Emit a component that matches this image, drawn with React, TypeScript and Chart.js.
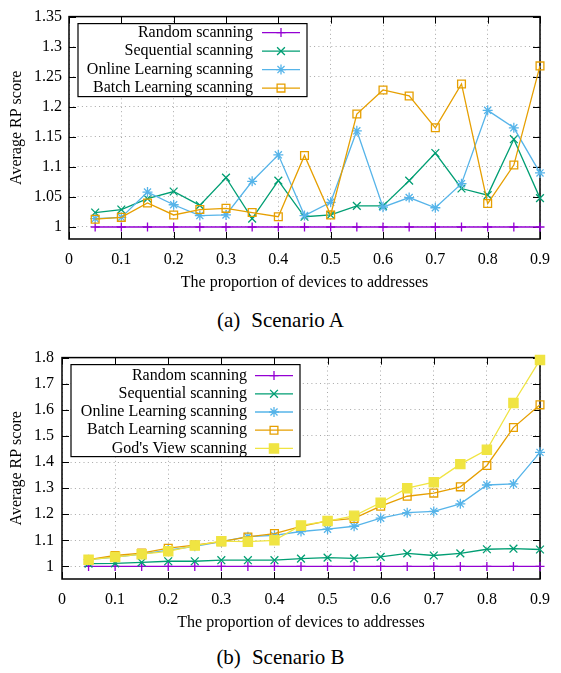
import React, { useEffect, useRef } from 'react';
import { Chart, registerables } from 'chart.js';

Chart.register(...registerables);

const FONT = "'Liberation Serif', 'Times New Roman', serif";

// ---------- data ----------
const xValues = [0.05, 0.1, 0.15, 0.2, 0.25, 0.3, 0.35, 0.4, 0.45, 0.5, 0.55, 0.6, 0.65, 0.7, 0.75, 0.8, 0.85, 0.9];
const xTicks = [0, 0.1, 0.2, 0.3, 0.4, 0.5, 0.6, 0.7, 0.8, 0.9];
const yTicksA = [1, 1.05, 1.1, 1.15, 1.2, 1.25, 1.3, 1.35];
const yTicksB = [1, 1.1, 1.2, 1.3, 1.4, 1.5, 1.6, 1.7, 1.8];

const seriesLabelsA = ['Random scanning', 'Sequential scanning', 'Online Learning scanning', 'Batch Learning scanning'];
const seriesLabelsB = ['Random scanning', 'Sequential scanning', 'Online Learning scanning', 'Batch Learning scanning', "God's View scanning"];

const randomA = [1, 1, 1, 1, 1, 1, 1, 1, 1, 1, 1, 1, 1, 1, 1, 1, 1, 1];
const sequentialA = [1.024, 1.029, 1.047, 1.059, 1.036, 1.082, 1.014, 1.077, 1.017, 1.02, 1.035, 1.035, 1.077, 1.123, 1.064, 1.053, 1.146, 1.048];
const onlineA = [1.014, 1.016, 1.058, 1.037, 1.019, 1.02, 1.076, 1.12, 1.019, 1.041, 1.16, 1.033, 1.049, 1.032, 1.072, 1.194, 1.165, 1.09];
const batchA = [1.013, 1.016, 1.04, 1.02, 1.029, 1.031, 1.024, 1.017, 1.119, 1.02, 1.188, 1.228, 1.218, 1.165, 1.238, 1.039, 1.103, 1.268];

const randomB = [1, 1, 1, 1, 1, 1, 1, 1, 1, 1, 1, 1, 1, 1, 1, 1, 1, 1];
const sequentialB = [1.011, 1.012, 1.016, 1.02, 1.02, 1.024, 1.024, 1.024, 1.03, 1.034, 1.031, 1.037, 1.05, 1.042, 1.05, 1.066, 1.068, 1.065];
const onlineB = [1.026, 1.036, 1.047, 1.063, 1.077, 1.095, 1.114, 1.119, 1.134, 1.143, 1.154, 1.185, 1.206, 1.211, 1.24, 1.312, 1.316, 1.437];
const batchB = [1.026, 1.042, 1.051, 1.07, 1.082, 1.095, 1.113, 1.126, 1.154, 1.175, 1.184, 1.231, 1.269, 1.281, 1.305, 1.387, 1.532, 1.619];
const godB = [1.026, 1.036, 1.047, 1.058, 1.08, 1.097, 1.095, 1.1, 1.157, 1.174, 1.194, 1.244, 1.3, 1.323, 1.392, 1.447, 1.626, 1.791];

// ---------- styles ----------
const COLORS = ['#9400d3', '#009e73', '#56b4e9', '#e69f00', '#f0e442'];
const MARKERS = ['cross', 'crossRot', 'star', 'rect', 'rect'];
const RADII = [4.5, 5.5, 5, 5.5, 6.5];
const FILLED = [false, false, false, false, true];

const fmt = (v: number) => String(Math.round(v * 1000) / 1000);

function drawMarker(ctx: CanvasRenderingContext2D, style: string, x: number, y: number, r: number, color: string, filled: boolean) {
  ctx.save();
  ctx.strokeStyle = color;
  ctx.fillStyle = color;
  ctx.lineWidth = 1.3;
  ctx.beginPath();
  const d = r * Math.SQRT1_2;
  if (style === 'cross' || style === 'star') {
    ctx.moveTo(x - r, y); ctx.lineTo(x + r, y);
    ctx.moveTo(x, y - r); ctx.lineTo(x, y + r);
  }
  if (style === 'crossRot' || style === 'star') {
    ctx.moveTo(x - d, y - d); ctx.lineTo(x + d, y + d);
    ctx.moveTo(x - d, y + d); ctx.lineTo(x + d, y - d);
  }
  if (style === 'rect') {
    ctx.rect(x - d, y - d, 2 * d, 2 * d);
    if (filled) ctx.fill();
  }
  ctx.stroke();
  ctx.restore();
}

const gnuplotPlugin = {
  id: 'gnuplotFrame',
  beforeDatasetsDraw(chart: any) {
    const { ctx, chartArea, scales } = chart;
    const { left, right, top, bottom } = chartArea;
    const tl = 7;
    ctx.save();
    ctx.strokeStyle = '#000';
    ctx.lineWidth = 1;
    ctx.beginPath();
    scales.x.ticks.forEach((t: any) => {
      const px = Math.round(scales.x.getPixelForValue(t.value)) + 0.5;
      ctx.moveTo(px, bottom); ctx.lineTo(px, bottom - tl);
      ctx.moveTo(px, top); ctx.lineTo(px, top + tl);
    });
    scales.y.ticks.forEach((t: any) => {
      const py = Math.round(scales.y.getPixelForValue(t.value)) + 0.5;
      ctx.moveTo(left, py); ctx.lineTo(left + tl, py);
      ctx.moveTo(right, py); ctx.lineTo(right - tl, py);
    });
    ctx.stroke();
    ctx.lineWidth = 1.5;
    ctx.strokeRect(left, top, right - left, bottom - top);
    ctx.restore();
  },
  afterDatasetsDraw(chart: any, _args: any, opts: any) {
    const { ctx, chartArea } = chart;
    const bx = chartArea.left + opts.dx;
    const by = chartArea.top + opts.dy;
    const n = chart.data.datasets.length;
    ctx.save();
    ctx.fillStyle = '#fff';
    ctx.fillRect(bx, by, opts.w, opts.h);
    ctx.strokeStyle = '#000';
    ctx.lineWidth = 1.2;
    ctx.strokeRect(bx, by, opts.w, opts.h);
    ctx.font = `16px ${FONT}`;
    ctx.textAlign = 'right';
    ctx.textBaseline = 'middle';
    for (let i = 0; i < n; i++) {
      const ds = chart.data.datasets[i];
      const ry = by + opts.rowTop + i * opts.rowH;
      ctx.fillStyle = '#000';
      ctx.fillText(ds.label, bx + opts.textRight, ry);
      ctx.strokeStyle = ds.borderColor;
      ctx.lineWidth = 1.3;
      ctx.beginPath();
      ctx.moveTo(bx + opts.lineStart, ry);
      ctx.lineTo(bx + opts.lineEnd, ry);
      ctx.stroke();
      drawMarker(ctx, ds.pointStyle, bx + (opts.lineStart + opts.lineEnd) / 2, ry, ds.pointRadius, ds.borderColor, FILLED[i]);
    }
    ctx.restore();
  },
};

type PlotProps = {
  labels: string[];
  series: number[][];
  yTicks: number[];
  yMin: number;
  yMax: number;
  yAxisWidth: number;
  yLabelPad: number;
  padRight: number;
  legend: any;
};

function Plot({ labels, series, yTicks, yMin, yMax, yAxisWidth, yLabelPad, padRight, legend }: PlotProps) {
  const ref = useRef<HTMLCanvasElement | null>(null);
  useEffect(() => {
    if (!ref.current) return;
    const n = series.length;
    const datasets = series.map((vals, i) => ({
      label: labels[i],
      data: xValues.map((x, j) => ({ x, y: vals[j] })),
      borderColor: COLORS[i],
      backgroundColor: FILLED[i] ? COLORS[i] : 'rgba(0,0,0,0)',
      borderWidth: 1.3,
      pointStyle: MARKERS[i],
      pointRadius: RADII[i],
      pointHoverRadius: RADII[i],
      pointBorderWidth: 1.3,
      pointBorderColor: COLORS[i],
      pointBackgroundColor: FILLED[i] ? COLORS[i] : 'rgba(0,0,0,0)',
      tension: 0,
      clip: false,
      order: n - i,
    }));
    const tickFont = { family: FONT, size: 16 };
    const chart = new Chart(ref.current, {
      type: 'line',
      data: { datasets },
      plugins: [gnuplotPlugin],
      options: {
        responsive: false,
        animation: false,
        events: [],
        layout: { padding: { top: 10, right: padRight, left: 0, bottom: 0 } },
        plugins: {
          legend: { display: false },
          tooltip: { enabled: false },
          gnuplotFrame: legend,
        } as any,
        scales: {
          x: {
            type: 'linear',
            min: 0,
            max: 0.9,
            afterBuildTicks: (s: any) => { s.ticks = xTicks.map((v) => ({ value: v })); },
            afterFit: (s: any) => { s.height = 61; },
            ticks: { autoSkip: false, maxRotation: 0, padding: 11, color: '#000', font: tickFont, callback: (v: any) => fmt(Number(v)) },
            grid: { color: '#a8a8a8', lineWidth: 1, drawTicks: false },
            border: { display: false, dash: [1, 3.3] },
            title: { display: true, text: 'The proportion of devices to addresses', color: '#000', font: tickFont, padding: { top: 0, bottom: 7.4 } },
          },
          y: {
            type: 'linear',
            min: yMin,
            max: yMax,
            afterBuildTicks: (s: any) => { s.ticks = yTicks.map((v) => ({ value: v })); },
            afterFit: (s: any) => { s.width = yAxisWidth; },
            ticks: { autoSkip: false, padding: yLabelPad, color: '#000', font: tickFont, callback: (v: any) => fmt(Number(v)) },
            grid: { color: '#a8a8a8', lineWidth: 1, drawTicks: false },
            border: { display: false, dash: [1, 3.3] },
            title: { display: true, text: 'Average RP score', color: '#000', font: tickFont, padding: { top: 7.5, bottom: 0 } },
          },
        },
      } as any,
    });
    return () => chart.destroy();
  }, []);
  return <canvas ref={ref} width={561} height={300} style={{ display: 'block', width: 561, height: 300 }} />;
}

const captionStyle: React.CSSProperties = {
  position: 'absolute',
  left: 0,
  width: 561,
  textAlign: 'center',
  fontFamily: FONT,
  fontSize: 21,
  lineHeight: '24px',
  color: '#000',
};

export default function App() {
  return (
    <div style={{ position: 'absolute', left: 0, top: 0, width: 561, height: 673, background: '#fff', overflow: 'hidden' }}>
      <div style={{ position: 'absolute', left: 0, top: 0 }}>
        <Plot
          labels={seriesLabelsA}
          series={[randomA, sequentialA, onlineA, batchA]}
          yTicks={yTicksA}
          yMin={0.98}
          yMax={1.35}
          yAxisWidth={69}
          yLabelPad={7}
          padRight={13}
          legend={{ dx: 9, dy: 7, w: 229, h: 73, rowTop: 9, rowH: 18.5, textRight: 175, lineStart: 184, lineEnd: 222 }}
        />
      </div>
      <div style={{ ...captionStyle, top: 308 }}>
        <span>(a)</span><span style={{ marginLeft: 11 }}>Scenario A</span>
      </div>
      <div style={{ position: 'absolute', left: 0, top: 340 }}>
        <Plot
          labels={seriesLabelsB}
          series={[randomB, sequentialB, onlineB, batchB, godB]}
          yTicks={yTicksB}
          yMin={0.952}
          yMax={1.8}
          yAxisWidth={62}
          yLabelPad={8}
          padRight={12}
          legend={{ dx: 9, dy: 7, w: 229, h: 92, rowTop: 11, rowH: 18.2, textRight: 176, lineStart: 184, lineEnd: 222 }}
        />
      </div>
      <div style={{ ...captionStyle, top: 645 }}>
        <span>(b)</span><span style={{ marginLeft: 11 }}>Scenario B</span>
      </div>
    </div>
  );
}
